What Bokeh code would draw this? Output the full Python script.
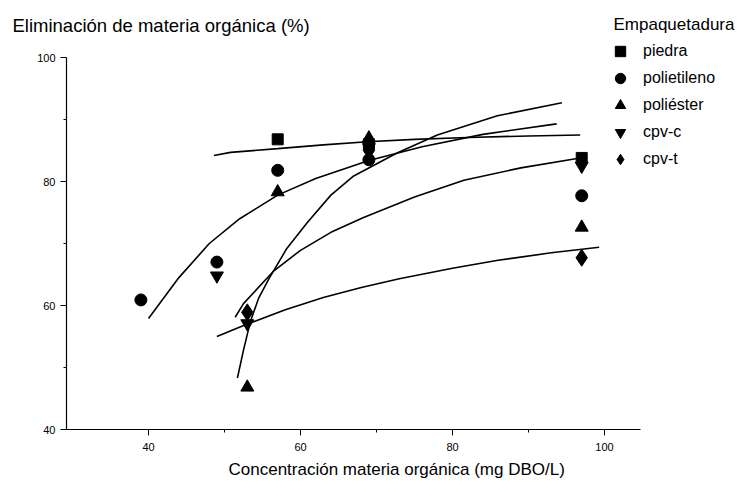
from bokeh.plotting import figure
from bokeh.layouts import column
from bokeh.models import Range1d, FixedTicker, Legend, LegendItem, Label, Title
from bokeh.embed import file_html
from bokeh.resources import INLINE

# ---- data ----
piedra_x = [57, 69, 97]
piedra_y = [86.8, 86.0, 83.8]
polietileno_x = [39, 49, 57, 69, 97]
polietileno_y = [60.9, 67.0, 81.8, 83.5, 77.7]
poliester_x = [53, 57, 69, 97]
poliester_y = [46.8, 78.3, 87.0, 72.6]
cpvc_x = [49, 53, 69, 97]
cpvc_y = [64.8, 57.1, 85.5, 82.5]
cpvt_x = [53, 69, 97]
cpvt_y = [58.9, 85.0, 67.7]

# fitted curves
fit1_x = [48.6, 50.8, 57, 63, 68.8, 75, 82, 90, 96.8]
fit1_y = [84.2, 84.7, 85.3, 85.9, 86.4, 86.8, 87.1, 87.35, 87.5]
fit2_x = [40, 44, 48, 52, 57, 62, 69, 76, 84, 93.7]
fit2_y = [57.9, 64.5, 70.0, 74.0, 77.8, 80.5, 83.4, 85.6, 87.6, 89.3]
fit3_x = [51.7, 52.5, 53.4, 54.5, 55.8, 58.2, 60.9, 64, 67, 72.7, 78, 85.9, 94.4]
fit3_y = [48.3, 52.8, 57.4, 61.2, 64.2, 69.2, 73.4, 77.8, 80.9, 84.6, 87.5, 90.6, 92.7]
fit4_x = [51.4, 52.5, 56.5, 60, 64, 68.3, 75, 81.5, 89, 96.4]
fit4_y = [58.1, 60.3, 65.6, 68.9, 71.8, 74.2, 77.5, 80.2, 82.2, 83.7]
fit5_x = [49, 53, 58, 63, 68, 73, 80, 86, 93, 99.3]
fit5_y = [55.0, 57.0, 59.3, 61.3, 62.9, 64.3, 66.0, 67.3, 68.5, 69.4]

x_ticks = [40, 60, 80, 100]
x_minor = [50, 70, 90]
y_ticks = [40, 60, 80, 100]
y_minor = [50, 70, 90]
x_axis_bounds = (29.2, 104.7)
y_axis_bounds = (40, 100)

y_title = "Eliminación de materia orgánica (%)"
x_title = "Concentración materia orgánica (mg DBO/L)"
legend_title = "Empaquetadura"
series_names = ["piedra", "polietileno", "poliéster", "cpv-c", "cpv-t"]

FONT = "Liberation Sans"
W = 745

# ---- top strip holding the two header texts ----
top = figure(width=W, height=37, output_backend="svg", toolbar_location=None,
             x_range=Range1d(0, 1), y_range=Range1d(0, 1), min_border=0, title=None)
top.frame_align = False
top.xaxis.visible = False
top.yaxis.visible = False
top.grid.visible = False
top.outline_line_color = None
top.add_layout(Label(x=12, y=12, x_units="screen", y_units="screen",
                     text=y_title, text_font=FONT, text_font_size="18.5px",
                     text_baseline="middle", text_align="left", text_color="black"))
top.add_layout(Label(x=613, y=13, x_units="screen", y_units="screen",
                     text=legend_title, text_font=FONT, text_font_size="17px",
                     text_baseline="middle", text_align="left", text_color="black"))

# ---- main chart ----
p = figure(width=W, height=450, output_backend="svg", toolbar_location=None,
           x_range=Range1d(29.21, 29.21 + (W - 66) / 7.6),
           y_range=Range1d(40, 40 + 392 / 6.2),
           min_border_left=66, min_border_top=0, min_border_bottom=58,
           min_border_right=0, title=None)
p.frame_align = False
p.outline_line_color = None
p.grid.visible = False

for ax in (p.xaxis[0], p.yaxis[0]):
    ax.axis_line_color = "black"
    ax.axis_line_width = 1.2
    ax.major_tick_line_color = "black"
    ax.minor_tick_line_color = "black"
    ax.major_tick_in = 0
    ax.major_tick_out = 6
    ax.minor_tick_in = 0
    ax.minor_tick_out = 3
    ax.major_label_text_font = FONT
    ax.major_label_text_font_size = "11px"
    ax.major_label_text_color = "black"

p.xaxis[0].ticker = FixedTicker(ticks=x_ticks, minor_ticks=x_minor)
p.yaxis[0].ticker = FixedTicker(ticks=y_ticks, minor_ticks=y_minor)
p.xaxis[0].bounds = x_axis_bounds
p.yaxis[0].bounds = y_axis_bounds
p.xaxis[0].major_label_standoff = 7
p.yaxis[0].major_label_standoff = 5

for fx, fy in [(fit1_x, fit1_y), (fit2_x, fit2_y), (fit3_x, fit3_y),
               (fit4_x, fit4_y), (fit5_x, fit5_y)]:
    p.line(fx, fy, line_color="black", line_width=1.6)

r1 = p.scatter(piedra_x, piedra_y, marker="square", size=11, color="black")
r2 = p.scatter(polietileno_x, polietileno_y, marker="circle", size=12, color="black")
r3 = p.scatter(poliester_x, poliester_y, marker="triangle", size=13, color="black")
r4 = p.scatter(cpvc_x, cpvc_y, marker="inverted_triangle", size=13, color="black")
r5 = p.scatter(cpvt_x, cpvt_y, marker="diamond", size=17, color="black")

legend = Legend(items=[LegendItem(label=n, renderers=[r]) for n, r in
                       zip(series_names, [r1, r2, r3, r4, r5])],
                location=(539, 257), orientation="vertical",
                glyph_width=30, glyph_height=26, label_height=26, spacing=1,
                label_standoff=8, padding=0, margin=0,
                border_line_color=None, background_fill_alpha=0,
                label_text_font=FONT, label_text_font_size="16px",
                label_text_color="black")
p.add_layout(legend, "center")

p.add_layout(Title(text=x_title, align="left", offset=162, standoff=8,
                   text_font=FONT, text_font_size="17px",
                   text_font_style="normal", text_color="black"), "below")

layout = column(top, p, spacing=0)
open("out.html", "w").write(file_html(layout, INLINE))
